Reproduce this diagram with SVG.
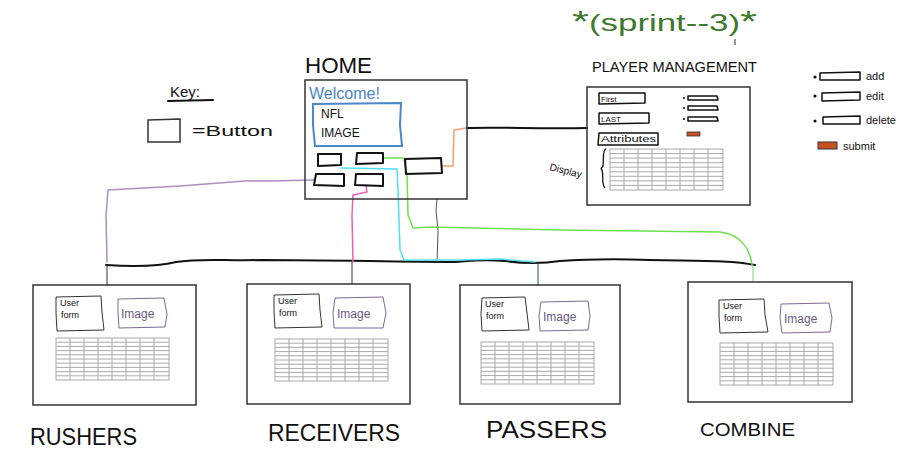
<svg xmlns="http://www.w3.org/2000/svg" width="922" height="456" viewBox="0 0 922 456">
<style>
  .frame{fill:none;stroke:#333;stroke-width:1.5}
  .btn{fill:none;stroke:#111;stroke-width:2;stroke-linejoin:round}
  .thin{fill:none;stroke:#333;stroke-width:1}
  .grid{fill:none;stroke:#aaa;stroke-width:1}
  .img{fill:none;stroke:#7a6a92;stroke-width:1}
  .ink{fill:none;stroke:#111;stroke-width:2;stroke-linecap:round}
  text{font-family:"Liberation Sans",Arial,sans-serif;fill:#111}
  .big{font-size:24px}
  .sm{font-size:9px}
  .lg{font-size:11px}
  .imgt{font-size:12px;fill:#6a5a82}
</style>
<defs>
  <g id="tbl">
    <rect x="0" y="0" width="113" height="42" class="grid"/>
    <path class="grid" d="M14,0V42M28,0V42M42,0V42M56,0V42M70,0V42M84,0V42M98,0V42M0,4.2H113M0,8.4H113M0,12.6H113M0,16.8H113M0,21H113M0,25.2H113M0,29.4H113M0,33.6H113M0,37.8H113"/>
  </g>
  <g id="ptbl">
    <rect x="0" y="0" width="113" height="41" class="grid"/>
    <path class="grid" d="M14,0V41M28,0V41M42,0V41M56,0V41M70,0V41M84,0V41M98,0V41M0,4.6H113M0,9.1H113M0,13.7H113M0,18.2H113M0,22.8H113M0,27.3H113M0,31.9H113M0,36.4H113"/>
  </g>
</defs>

<!-- Key -->
<g id="key">
  <text x="170" y="97" style="font-size:15px">Key:</text>
  <path class="ink" d="M168,101 L213,100"/>
  <path class="thin" style="stroke-width:1.5" d="M148,120 L180,119 L180,142 L148,142 Z"/>
  <text x="192" y="136" style="font-size:15px" textLength="81" lengthAdjust="spacingAndGlyphs">=Button</text>
</g>

<!-- Sprint label -->
<g id="sprint">
  <text x="572" y="31" style="font-size:24px;fill:#3d7a2c" textLength="185" lengthAdjust="spacingAndGlyphs"><tspan style="font-size:30px">*</tspan>(sprint--3)<tspan style="font-size:30px">*</tspan></text>
  <path d="M735,39 L735,45" stroke="#333" stroke-width="1"/>
</g>

<!-- Legend -->
<g id="legend">
  <circle cx="815" cy="77" r="1.6" fill="#111"/>
  <path class="btn" style="stroke-width:1.5" d="M820,73 L860,72 L860,80 L820,80 Z"/>
  <text x="866" y="80" class="lg">add</text>
  <circle cx="815" cy="96" r="1.6" fill="#111"/>
  <path class="btn" style="stroke-width:1.5" d="M822,93 L860,92 L860,100 L822,101 Z"/>
  <text x="866" y="100" class="lg">edit</text>
  <circle cx="815" cy="121" r="1.6" fill="#111"/>
  <path class="btn" style="stroke-width:1.5" d="M823,117 L860,116 L860,124 L823,124 Z"/>
  <text x="866" y="124" class="lg">delete</text>
  <rect x="818" y="142" width="19" height="7" fill="#c8501e" stroke="#333" stroke-width="1"/>
  <text x="843" y="150" class="lg">submit</text>
</g>

<!-- Connectors -->
<g id="connectors" fill="none" stroke-linecap="round" stroke-linejoin="round">
  <path d="M467,128 C500,127 540,129 587,128" stroke="#111" stroke-width="2"/>
  <path d="M442,166 L453,166 L454,130 L466,128" stroke="#f0a070" stroke-width="1.5"/>
  <path d="M106,265 C140,267 160,266 176,262 C200,258 225,261 260,260 C330,260 400,262 455,262 C470,261 480,259 505,261 C520,263 540,264 560,261 C590,259 620,259 650,260 C700,261 730,260 755,265" stroke="#111" stroke-width="2"/>
  <path d="M107,265 L107,285" stroke="#333" stroke-width="1"/>
  <path d="M352,262 L352,284" stroke="#333" stroke-width="1"/>
  <path d="M538,262 L538,285" stroke="#2a4a50" stroke-width="1"/>
  <path d="M753,265 L753,282" stroke="#7bd86a" stroke-width="1"/>
  <path d="M437,199 L436,210 L438,230 L437,262" stroke="#555" stroke-width="1"/>
  <path d="M314,180 L270,181 L245,181 L180,186 L108,190 L106,215 L107,262" stroke="#a990c0" stroke-width="1.5"/>
  <path d="M366,186 L367,192 L353,195 L352,215 L353,262" stroke="#f060b0" stroke-width="1.5"/>
  <path d="M341,168 L397,169 L398,190 L400,250 L404,260 L460,260 L500,259 L535,262" stroke="#4fe0f0" stroke-width="1.5"/>
  <path d="M383,158 L404,158 L407,175 L408,215 L413,228 L430,227 L560,230 L720,232 C740,234 750,248 752,265" stroke="#6fe050" stroke-width="1.5"/>
</g>

<!-- HOME -->
<g id="home">
  <text x="305" y="73" style="font-size:22px" textLength="67" lengthAdjust="spacingAndGlyphs">HOME</text>
  <rect x="305" y="80" width="162" height="119" class="frame"/>
  <text x="309" y="99" style="font-size:16px;fill:#4a86c8" textLength="71" lengthAdjust="spacingAndGlyphs">Welcome!</text>
  <path d="M313,104 L401,103 L400,125 L402,146 L315,146 L313,125 Z" fill="none" stroke="#4a86c8" stroke-width="2"/>
  <text x="321" y="118" style="font-size:12px">NFL</text>
  <text x="321" y="137" style="font-size:12px">IMAGE</text>
  <path class="btn" d="M318,154 L341,154 L341,165 L318,166 Z"/>
  <path class="btn" d="M357,153 L383,153 L383,163 L356,164 Z"/>
  <path class="btn" d="M405,159 L441,158 L442,173 L406,174 Z"/>
  <path class="btn" d="M316,174 L344,174 L344,186 L314,185 Z"/>
  <path class="btn" d="M356,174 L383,174 L383,186 L355,185 Z"/>
</g>

<!-- Player management -->
<g id="player-management">
  <text x="592" y="72" style="font-size:15px" textLength="165" lengthAdjust="spacingAndGlyphs">PLAYER MANAGEMENT</text>
  <rect x="587" y="87" width="163" height="118" class="frame"/>
  <path class="btn" style="stroke-width:1.5" d="M599,93 L645,93 L645,103 L599,104 Z"/>
  <text x="601" y="102" style="font-size:8px">First</text>
  <path class="btn" style="stroke-width:1.5" d="M599,113 L649,113 L649,123 L599,124 Z"/>
  <text x="601" y="122" style="font-size:8px">LAST</text>
  <path class="btn" style="stroke-width:1.5" d="M599,133 L658,133 L658,145 L598,145 Z"/>
  <text x="601" y="142" style="font-size:9px" textLength="55" lengthAdjust="spacingAndGlyphs">Attributes</text>
  <circle cx="684" cy="98" r="1" fill="#111"/>
  <path class="btn" style="stroke-width:1.5" d="M688,96 L717,96 L718,100 L688,100 Z"/>
  <circle cx="684" cy="108" r="1" fill="#111"/>
  <path class="btn" style="stroke-width:1.5" d="M688,106 L717,106 L718,110 L688,110 Z"/>
  <circle cx="684" cy="119" r="1" fill="#111"/>
  <path class="btn" style="stroke-width:1.5" d="M688,117 L717,117 L718,121 L688,121 Z"/>
  <rect x="687" y="132" width="13" height="4" fill="#c8501e" stroke="#333" stroke-width="0.8"/>
  <text x="549" y="170" style="font-size:10px;fill:#111" transform="rotate(14 549 170)">Display</text>
  <path d="M606,149 C602,150 604,160 603,166 C602,168 600,168 602,170 C604,176 601,184 605,188" fill="none" stroke="#111" stroke-width="1.3"/>
  <use href="#ptbl" x="610" y="149"/>
</g>

<!-- Rushers -->
<g id="rushers">
  <rect x="33" y="285" width="163" height="120" class="frame"/>
  <path class="thin" d="M56,297 L101,296 L102,312 L104,330 L57,331 L56,313 Z"/>
  <text x="60" y="306" class="sm">User</text>
  <text x="61" y="318" class="sm">form</text>
  <path class="img" d="M118,299 L164,298 L167,314 L165,327 L119,328 L118,312 Z"/>
  <text x="121" y="318" class="imgt">Image</text>
  <use href="#tbl" x="56" y="338"/>
  <text x="30" y="445" class="big" textLength="107" lengthAdjust="spacingAndGlyphs">RUSHERS</text>
</g>

<!-- Receivers -->
<g id="receivers">
  <rect x="247" y="284" width="163" height="120" class="frame"/>
  <path class="thin" d="M274,295 L319,294 L320,310 L322,327 L275,328 L274,312 Z"/>
  <text x="278" y="304" class="sm">User</text>
  <text x="279" y="316" class="sm">form</text>
  <path class="img" d="M335,298 L383,297 L386,313 L383,328 L334,328 L333,313 Z"/>
  <text x="337" y="318" class="imgt">Image</text>
  <use href="#tbl" x="275" y="339"/>
  <text x="268" y="441" class="big" textLength="132" lengthAdjust="spacingAndGlyphs">RECEIVERS</text>
</g>

<!-- Passers -->
<g id="passers">
  <rect x="460" y="285" width="160" height="119" class="frame"/>
  <path class="thin" d="M482,298 L525,297 L527,313 L529,330 L482,331 L481,314 Z"/>
  <text x="485" y="307" class="sm">User</text>
  <text x="486" y="319" class="sm">form</text>
  <path class="img" d="M541,302 L588,301 L590,316 L588,330 L540,331 L539,316 Z"/>
  <text x="543" y="321" class="imgt">Image</text>
  <use href="#tbl" x="481" y="342"/>
  <text x="486" y="438" class="big" textLength="121" lengthAdjust="spacingAndGlyphs">PASSERS</text>
</g>

<!-- Combine -->
<g id="combine">
  <rect x="688" y="282" width="164" height="120" class="frame"/>
  <path class="thin" d="M719,300 L764,299 L765,315 L768,332 L720,333 L719,316 Z"/>
  <text x="723" y="309" class="sm">User</text>
  <text x="724" y="321" class="sm">form</text>
  <path class="img" d="M781,304 L829,303 L832,318 L830,332 L782,333 L780,318 Z"/>
  <text x="784" y="323" class="imgt">Image</text>
  <use href="#tbl" x="720" y="343"/>
  <text x="700" y="436" style="font-size:18px" textLength="95" lengthAdjust="spacingAndGlyphs">COMBINE</text>
</g>
</svg>
